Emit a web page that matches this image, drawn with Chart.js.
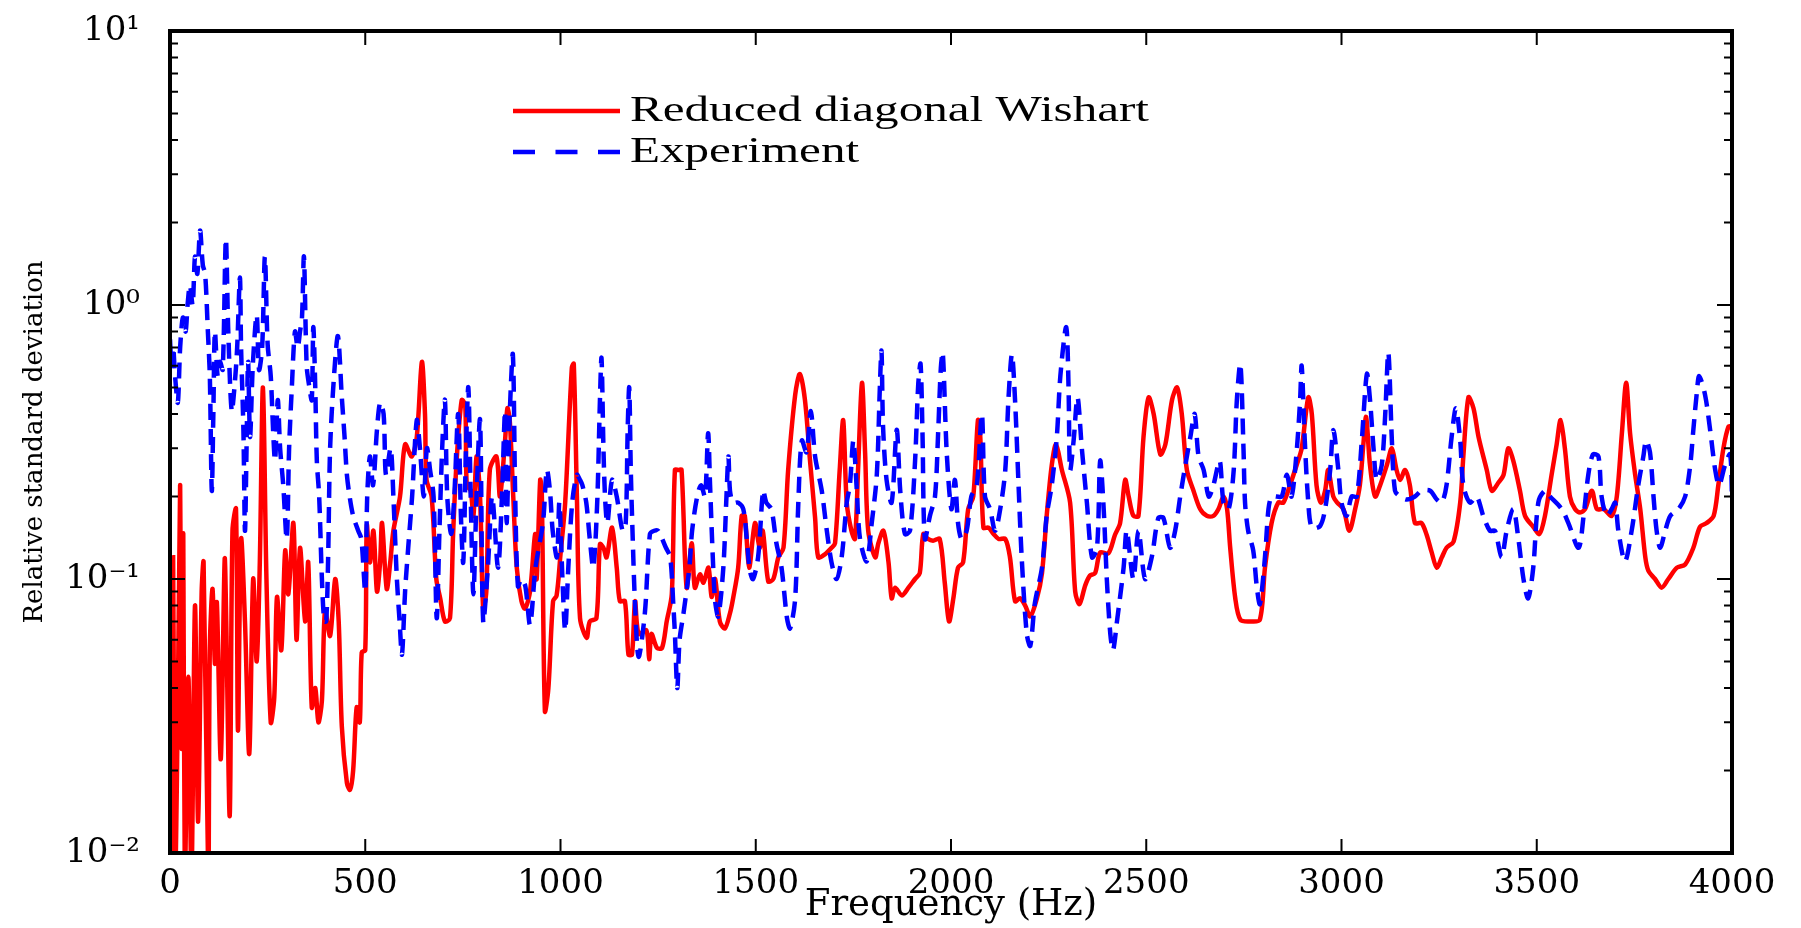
<!DOCTYPE html>
<html lang="en">
<head>
  <meta charset="UTF-8" />
  <title>Relative standard deviation</title>
  <script src="https://cdn.jsdelivr.net/npm/chart.js"></script>
  <style>
    * { margin: 0; padding: 0; box-sizing: border-box; }
    body { background: #ffffff; width: 1801px; height: 928px; overflow: hidden; }
    #wrap { position: relative; width: 1801px; height: 928px; }
    canvas { display: block; }
  </style>
</head>
<body>
  <div id="wrap"><canvas id="rsdChart" width="1801" height="928"></canvas></div>

  <script>
    // values (frequency in Hz, relative std. deviation)
    const wishartFreq = [0, 3, 8, 13, 20, 26, 30, 34, 38, 47, 55, 64, 72, 81, 86, 98, 102, 109, 115, 120,
      130, 140, 144, 153, 160, 169, 174, 182, 192, 203, 213, 222, 230, 238, 247, 258, 267, 274, 285, 295,
      303, 316, 324, 333, 346, 354, 363, 372, 380, 389, 397, 410, 423, 432, 440, 453, 461, 469, 478, 486,
      491, 500, 504, 512, 521, 530, 538, 543, 555, 564, 572, 589, 602, 619, 632, 645, 653, 657, 670, 682,
      692, 704, 717, 725, 734, 747, 756, 760, 770, 777, 785, 794, 802, 810, 819, 836, 845, 858, 864, 870,
      879, 888, 900, 909, 922, 935, 939, 948, 952, 960, 969, 981, 990, 1000, 1012, 1029, 1034, 1042, 1050, 1067,
      1075, 1092, 1101, 1110, 1118, 1132, 1144, 1152, 1165, 1174, 1183, 1191, 1200, 1220, 1227, 1233, 1247, 1260, 1272, 1285,
      1293, 1302, 1310, 1323, 1336, 1344, 1357, 1366, 1379, 1387, 1396, 1408, 1421, 1434, 1442, 1455, 1464, 1472, 1483, 1498,
      1510, 1518, 1532, 1545, 1558, 1571, 1583, 1601, 1613, 1626, 1639, 1652, 1660, 1677, 1694, 1703, 1715, 1724, 1733, 1745,
      1754, 1762, 1772, 1780, 1788, 1806, 1814, 1827, 1840, 1848, 1857, 1874, 1891, 1908, 1920, 1929, 1941, 1954, 1971, 1984,
      1995, 2006, 2018, 2031, 2044, 2057, 2069, 2075, 2083, 2096, 2109, 2122, 2139, 2151, 2164, 2177, 2190, 2203, 2220, 2233,
      2245, 2258, 2269, 2284, 2305, 2318, 2329, 2344, 2356, 2369, 2382, 2403, 2420, 2433, 2446, 2455, 2467, 2480, 2493, 2506,
      2519, 2536, 2549, 2566, 2579, 2591, 2604, 2621, 2638, 2655, 2672, 2685, 2698, 2707, 2715, 2728, 2741, 2766, 2791, 2804,
      2821, 2838, 2851, 2868, 2885, 2898, 2915, 2924, 2936, 2947, 2958, 2966, 2979, 2989, 3005, 3020, 3035, 3047, 3056, 3063,
      3073, 3086, 3099, 3116, 3129, 3141, 3150, 3163, 3175, 3188, 3205, 3218, 3231, 3244, 3257, 3269, 3287, 3304, 3312, 3325,
      3338, 3351, 3372, 3385, 3402, 3415, 3427, 3440, 3457, 3470, 3491, 3507, 3521, 3538, 3551, 3561, 3572, 3585, 3598, 3611,
      3624, 3641, 3654, 3671, 3692, 3705, 3718, 3729, 3739, 3752, 3765, 3778, 3786, 3803, 3820, 3837, 3859, 3880, 3901, 3918,
      3935, 3953, 3965, 3978, 3991, 4000];
    const wishartRsd = [0.049, 0.008, 0.12, 0.008, 0.034, 0.22, 0.024, 0.146, 0.008, 0.044, 0.008, 0.08, 0.013, 0.089, 0.115, 0.008, 0.056, 0.092, 0.049, 0.082,
      0.022, 0.118, 0.07, 0.0137, 0.15, 0.18, 0.028, 0.14, 0.07, 0.023, 0.1, 0.05, 0.115, 0.5, 0.1, 0.03, 0.037, 0.086, 0.055, 0.127,
      0.088, 0.16, 0.06, 0.13, 0.07, 0.115, 0.034, 0.04, 0.03, 0.036, 0.077, 0.062, 0.1, 0.07, 0.029, 0.018, 0.017, 0.02, 0.034, 0.03,
      0.054, 0.055, 0.157, 0.115, 0.15, 0.09, 0.115, 0.16, 0.092, 0.115, 0.15, 0.2, 0.31, 0.28, 0.33, 0.62, 0.4, 0.23, 0.2, 0.1,
      0.085, 0.07, 0.072, 0.146, 0.27, 0.45, 0.43, 0.22, 0.21, 0.17, 0.28, 0.2, 0.078, 0.09, 0.25, 0.28, 0.2, 0.32, 0.42, 0.38,
      0.2, 0.11, 0.083, 0.078, 0.09, 0.146, 0.1, 0.23, 0.21, 0.033, 0.04, 0.083, 0.087, 0.123, 0.19, 0.59, 0.61, 0.2, 0.072, 0.061,
      0.07, 0.072, 0.134, 0.13, 0.12, 0.154, 0.11, 0.083, 0.083, 0.053, 0.053, 0.083, 0.063, 0.065, 0.051, 0.063, 0.056, 0.056, 0.07, 0.088,
      0.25, 0.25, 0.25, 0.093, 0.135, 0.093, 0.104, 0.097, 0.11, 0.086, 0.1, 0.07, 0.066, 0.075, 0.085, 0.11, 0.17, 0.17, 0.11, 0.16,
      0.13, 0.15, 0.098, 0.1, 0.12, 0.13, 0.25, 0.47, 0.56, 0.45, 0.27, 0.167, 0.12, 0.123, 0.13, 0.135, 0.25, 0.38, 0.19, 0.15,
      0.14, 0.25, 0.52, 0.29, 0.15, 0.12, 0.135, 0.15, 0.115, 0.085, 0.093, 0.087, 0.093, 0.1, 0.105, 0.146, 0.14, 0.138, 0.14, 0.097,
      0.07, 0.085, 0.11, 0.115, 0.18, 0.2, 0.38, 0.33, 0.154, 0.154, 0.146, 0.14, 0.14, 0.12, 0.083, 0.085, 0.08, 0.073, 0.085, 0.105,
      0.17, 0.26, 0.31, 0.25, 0.19, 0.09, 0.081, 0.095, 0.103, 0.105, 0.125, 0.124, 0.145, 0.16, 0.23, 0.2, 0.17, 0.17, 0.33, 0.46,
      0.4, 0.285, 0.31, 0.45, 0.5, 0.4, 0.25, 0.21, 0.18, 0.17, 0.17, 0.18, 0.2, 0.18, 0.13, 0.085, 0.071, 0.07, 0.071, 0.11,
      0.16, 0.19, 0.19, 0.22, 0.26, 0.3, 0.46, 0.4, 0.22, 0.19, 0.21, 0.25, 0.2, 0.19, 0.18, 0.15, 0.18, 0.22, 0.31, 0.39,
      0.26, 0.2, 0.22, 0.26, 0.3, 0.25, 0.23, 0.25, 0.22, 0.16, 0.16, 0.145, 0.125, 0.11, 0.12, 0.13, 0.137, 0.19, 0.28, 0.46,
      0.42, 0.33, 0.25, 0.21, 0.225, 0.24, 0.3, 0.27, 0.21, 0.17, 0.155, 0.146, 0.17, 0.24, 0.31, 0.38, 0.3, 0.2, 0.18, 0.175,
      0.18, 0.21, 0.18, 0.18, 0.17, 0.2, 0.34, 0.52, 0.34, 0.24, 0.18, 0.12, 0.107, 0.1, 0.093, 0.1, 0.11, 0.113, 0.13, 0.155,
      0.16, 0.17, 0.22, 0.3, 0.36, 0.36];

    const experimentFreq = [0, 4, 8, 13, 20, 26, 33, 40, 45, 51, 58, 64, 70, 77, 84, 90, 97, 102, 107, 111,
      115, 122, 128, 135, 143, 149, 158, 166, 172, 179, 182, 188, 192, 196, 200, 205, 212, 222, 228, 236,
      243, 250, 258, 264, 269, 276, 282, 290, 299, 305, 312, 320, 327, 333, 338, 343, 350, 357, 363, 367,
      372, 376, 382, 389, 395, 400, 405, 410, 420, 430, 440, 447, 453, 460, 469, 482, 490, 500, 505, 512,
      520, 530, 538, 547, 553, 565, 572, 581, 588, 594, 602, 610, 620, 632, 640, 650, 658, 666, 675, 683,
      690, 697, 704, 710, 720, 728, 738, 745, 751, 758, 764, 770, 777, 785, 794, 802, 814, 825, 840, 850,
      858, 862, 870, 878, 884, 891, 900, 910, 922, 936, 955, 965, 973, 980, 991, 997, 1005, 1012, 1020, 1030,
      1042, 1050, 1056, 1066, 1075, 1084, 1094, 1101, 1105, 1110, 1114, 1120, 1132, 1144, 1159, 1167, 1172, 1176, 1180, 1185,
      1191, 1200, 1216, 1229, 1240, 1250, 1270, 1281, 1289, 1293, 1299, 1305, 1315, 1330, 1337, 1350, 1360, 1370, 1378, 1383,
      1390, 1396, 1404, 1417, 1425, 1430, 1434, 1442, 1455, 1468, 1477, 1485, 1493, 1506, 1519, 1527, 1540, 1553, 1566, 1580,
      1588, 1601, 1609, 1618, 1630, 1641, 1652, 1669, 1682, 1694, 1707, 1720, 1733, 1741, 1750, 1758, 1767, 1784, 1797, 1810,
      1818, 1822, 1826, 1835, 1848, 1861, 1870, 1882, 1895, 1908, 1916, 1922, 1927, 1933, 1946, 1959, 1967, 1974, 1979, 1989,
      2001, 2010, 2018, 2027, 2040, 2052, 2066, 2079, 2087, 2100, 2113, 2126, 2139, 2147, 2156, 2164, 2173, 2181, 2194, 2203,
      2215, 2233, 2245, 2258, 2271, 2280, 2295, 2301, 2305, 2314, 2324, 2335, 2348, 2361, 2374, 2382, 2391, 2399, 2408, 2415,
      2425, 2442, 2450, 2467, 2480, 2497, 2514, 2531, 2544, 2561, 2574, 2587, 2602, 2613, 2624, 2634, 2647, 2660, 2672, 2688,
      2698, 2711, 2724, 2732, 2741, 2749, 2753, 2761, 2774, 2783, 2791, 2804, 2813, 2821, 2834, 2847, 2860, 2872, 2885, 2894,
      2898, 2906, 2915, 2924, 2945, 2958, 2971, 2979, 2992, 3000, 3013, 3026, 3039, 3052, 3065, 3073, 3082, 3090, 3103, 3112,
      3120, 3129, 3137, 3150, 3167, 3188, 3205, 3227, 3244, 3257, 3269, 3282, 3293, 3304, 3312, 3329, 3346, 3363, 3380, 3393,
      3410, 3423, 3440, 3453, 3466, 3478, 3491, 3504, 3521, 3534, 3564, 3581, 3607, 3620, 3632, 3644, 3658, 3666, 3679, 3692,
      3701, 3709, 3726, 3743, 3760, 3773, 3780, 3790, 3799, 3807, 3816, 3829, 3842, 3863, 3880, 3893, 3901, 3910, 3916, 3931,
      3944, 3957, 3967, 3982, 3995, 4000];
    const experimentRsd = [0.75, 0.6, 0.7, 0.55, 0.44, 0.7, 0.9, 0.8, 1.0, 1.18, 1.0, 1.5, 1.3, 1.87, 1.4, 1.3, 0.8, 0.55, 0.21, 0.4,
      0.8, 0.55, 0.62, 0.58, 1.74, 0.82, 0.41, 0.52, 0.7, 1.26, 0.7, 0.35, 0.15, 0.3, 0.62, 0.33, 0.6, 0.92, 0.58, 0.7,
      1.5, 0.72, 0.55, 0.35, 0.27, 0.45, 0.3, 0.22, 0.14, 0.3, 0.5, 0.8, 0.7, 0.8, 0.9, 1.5, 0.6, 0.5, 0.45, 0.83,
      0.5, 0.27, 0.2, 0.1, 0.07, 0.07, 0.12, 0.3, 0.55, 0.77, 0.46, 0.33, 0.24, 0.2, 0.17, 0.15, 0.14, 0.09, 0.2, 0.28,
      0.22, 0.35, 0.44, 0.4, 0.24, 0.3, 0.2, 0.1, 0.07, 0.053, 0.09, 0.13, 0.2, 0.38, 0.3, 0.2, 0.3, 0.25, 0.2, 0.072,
      0.15, 0.3, 0.45, 0.2, 0.146, 0.2, 0.4, 0.17, 0.115, 0.3, 0.5, 0.2, 0.088, 0.2, 0.38, 0.07, 0.11, 0.2, 0.11, 0.2,
      0.41, 0.16, 0.4, 0.66, 0.2, 0.094, 0.1, 0.094, 0.068, 0.11, 0.16, 0.25, 0.21, 0.15, 0.12, 0.19, 0.1, 0.065, 0.11, 0.19,
      0.24, 0.23, 0.22, 0.19, 0.14, 0.11, 0.19, 0.45, 0.64, 0.3, 0.2, 0.16, 0.23, 0.2, 0.15, 0.16, 0.35, 0.5, 0.25, 0.14,
      0.08, 0.052, 0.075, 0.146, 0.15, 0.15, 0.13, 0.12, 0.08, 0.063, 0.04, 0.06, 0.075, 0.11, 0.15, 0.2, 0.22, 0.2, 0.34, 0.22,
      0.12, 0.083, 0.073, 0.11, 0.2, 0.28, 0.21, 0.19, 0.19, 0.18, 0.14, 0.107, 0.1, 0.12, 0.21, 0.19, 0.18, 0.135, 0.11, 0.072,
      0.066, 0.085, 0.19, 0.32, 0.29, 0.41, 0.28, 0.21, 0.15, 0.115, 0.1, 0.12, 0.19, 0.22, 0.32, 0.22, 0.14, 0.116, 0.16, 0.24,
      0.51, 0.68, 0.36, 0.23, 0.19, 0.35, 0.21, 0.146, 0.15, 0.27, 0.51, 0.61, 0.34, 0.14, 0.17, 0.2, 0.34, 0.59, 0.67, 0.29,
      0.18, 0.23, 0.16, 0.14, 0.15, 0.2, 0.22, 0.4, 0.2, 0.18, 0.15, 0.18, 0.25, 0.45, 0.66, 0.45, 0.22, 0.12, 0.063, 0.057,
      0.082, 0.11, 0.17, 0.22, 0.33, 0.55, 0.83, 0.5, 0.25, 0.32, 0.46, 0.3, 0.19, 0.12, 0.13, 0.27, 0.18, 0.1, 0.063, 0.055,
      0.07, 0.11, 0.15, 0.1, 0.15, 0.1, 0.12, 0.167, 0.167, 0.13, 0.15, 0.2, 0.27, 0.33, 0.4, 0.28, 0.25, 0.2, 0.22, 0.27,
      0.19, 0.18, 0.25, 0.45, 0.61, 0.3, 0.19, 0.15, 0.127, 0.094, 0.081, 0.12, 0.18, 0.2, 0.2, 0.2, 0.24, 0.2, 0.29, 0.45,
      0.6, 0.32, 0.19, 0.154, 0.156, 0.18, 0.25, 0.35, 0.25, 0.19, 0.17, 0.2, 0.2, 0.32, 0.56, 0.45, 0.3, 0.23, 0.26, 0.4,
      0.67, 0.32, 0.21, 0.2, 0.195, 0.2, 0.21, 0.21, 0.195, 0.19, 0.22, 0.33, 0.42, 0.32, 0.22, 0.19, 0.2, 0.17, 0.15, 0.15,
      0.12, 0.15, 0.18, 0.14, 0.1, 0.085, 0.11, 0.19, 0.21, 0.2, 0.18, 0.16, 0.13, 0.17, 0.24, 0.285, 0.28, 0.2, 0.17, 0.18,
      0.19, 0.15, 0.116, 0.15, 0.22, 0.28, 0.32, 0.29, 0.2, 0.15, 0.13, 0.15, 0.17, 0.18, 0.2, 0.26, 0.35, 0.48, 0.55, 0.47,
      0.35, 0.25, 0.22, 0.26, 0.285, 0.2];

    const seriesNames = ['Reduced diagonal Wishart', 'Experiment'];
    const xTickValues = [0, 500, 1000, 1500, 2000, 2500, 3000, 3500, 4000];
    const yTickValues = [0.01, 0.1, 1, 10];
    const yTickLabels = ['10⁻²', '10⁻¹', '10⁰', '10¹'];

    const toPoints = (xs, ys) => xs.map((f, i) => ({ x: f, y: ys[i] }));

    // where the plot box and the x title sit in the original figure
    const box = { left: 170, top: 31, right: 1732, bottom: 853 };
    const xTitleY = 911;
    const pad = { left: 0, top: 31, right: 69, bottom: 0 };

    // box, inward ticks and the legend, like the original MATLAB figure
    const framePlugin = {
      id: 'frame',
      afterDatasetsDraw(chart) {
        const { ctx, chartArea: a, scales: { x, y } } = chart;
        ctx.save();
        ctx.strokeStyle = '#000';
        ctx.lineWidth = 2;
        ctx.beginPath();
        xTickValues.forEach(v => {
          const px = x.getPixelForValue(v);
          ctx.moveTo(px, a.bottom); ctx.lineTo(px, a.bottom - 14);
          ctx.moveTo(px, a.top); ctx.lineTo(px, a.top + 14);
        });
        for (let e = -2; e < 1; e++) {
          for (let m = 1; m <= 9; m++) {
            const v = m * Math.pow(10, e);
            const py = y.getPixelForValue(v);
            const len = m === 1 ? 15 : 8;
            ctx.moveTo(a.left, py); ctx.lineTo(a.left + len, py);
            ctx.moveTo(a.right, py); ctx.lineTo(a.right - len, py);
          }
        }
        ctx.stroke();
        ctx.lineWidth = 4;
        ctx.strokeRect(a.left, a.top, a.right - a.left, a.bottom - a.top);

        // legend
        const lx = a.left + 343, lw = 107;
        const rows = [a.top + 80, a.top + 121];
        const styles = [
          { color: '#ff0000', dash: [] },
          { color: '#0000ff', dash: [22, 20.5] }
        ];
        rows.forEach((ry, i) => {
          ctx.strokeStyle = styles[i].color;
          ctx.lineWidth = 4.5;
          ctx.setLineDash(styles[i].dash);
          ctx.beginPath();
          ctx.moveTo(lx, ry); ctx.lineTo(lx + lw, ry);
          ctx.stroke();
        });
        ctx.setLineDash([]);
        ctx.fillStyle = '#000';
        ctx.font = '36px "Liberation Serif"';
        ctx.textBaseline = 'middle';
        const sx = 519 / ctx.measureText(seriesNames[0]).width;
        rows.forEach((ry, i) => {
          ctx.save();
          ctx.translate(lx + lw + 10, ry + 1);
          ctx.scale(sx, 1);
          ctx.fillText(seriesNames[i], 0, 0);
          ctx.restore();
        });
        ctx.restore();
      }
    };

    const ctx = document.getElementById('rsdChart').getContext('2d');
    const chart = new Chart(ctx, {
      type: 'line',
      data: {
        datasets: [{
          label: seriesNames[0],
          data: toPoints(wishartFreq, wishartRsd),
          borderColor: '#ff0000',
          borderWidth: 4.5,
          pointRadius: 0,
          tension: 0.3,
          fill: false,
          order: 2
        }, {
          label: seriesNames[1],
          data: toPoints(experimentFreq, experimentRsd),
          borderColor: '#0000ff',
          borderWidth: 4.5,
          borderDash: [16, 9],
          pointRadius: 0,
          tension: 0.3,
          fill: false,
          order: 1
        }]
      },
      options: {
        responsive: false,
        maintainAspectRatio: false,
        animation: false,
        devicePixelRatio: 1,
        layout: { padding: pad },
        plugins: {
          legend: { display: false },
          tooltip: { enabled: false }
        },
        scales: {
          x: {
            type: 'linear',
            min: 0,
            max: 4000,
            afterBuildTicks: s => { s.ticks = xTickValues.map(v => ({ value: v })); },
            afterFit: s => { s.height = 75; },
            // tick marks are drawn by the frame plugin; tickLength only spaces the labels
            grid: { display: false, drawTicks: true, tickLength: 4 },
            border: { display: false },
            ticks: {
              padding: 7,
              color: '#000',
              font: { family: 'DejaVu Serif', size: 34 },
              maxRotation: 0,
              autoSkip: false,
              callback: v => String(v)
            },
            title: {
              display: true,
              text: 'Frequency (Hz)',
              color: '#000',
              font: { family: 'DejaVu Serif', size: 37 },
              padding: { top: 0, bottom: 0 }
            }
          },
          y: {
            type: 'logarithmic',
            min: 0.01,
            max: 10,
            afterBuildTicks: s => { s.ticks = yTickValues.map(v => ({ value: v })); },
            afterFit: s => { s.width = 170; },
            grid: { display: false, drawTicks: true, tickLength: 27 },
            border: { display: false },
            ticks: {
              padding: 3,
              color: '#000',
              font: { family: 'DejaVu Serif', size: 34 },
              autoSkip: false,
              callback: v => {
                const i = yTickValues.findIndex(t => Math.abs(t - v) / t < 1e-6);
                return i >= 0 ? yTickLabels[i] : '';
              }
            },
            title: {
              display: true,
              text: 'Relative standard deviation',
              color: '#000',
              font: { family: 'DejaVu Serif', size: 26 },
              padding: { top: 20, bottom: 0 }
            }
          }
        }
      },
      plugins: [framePlugin]
    });

    // nudge the layout padding until the plot box lands where it is in the figure
    for (let k = 0; k < 3; k++) {
      const a = chart.chartArea;
      pad.top += box.top - a.top;
      pad.bottom += a.bottom - box.bottom;
      pad.left += box.left - a.left;
      pad.right += a.right - box.right;
      chart.options.layout.padding = { ...pad };
      chart.update();
    }

    // then set the x title to its place (the axis box height is fixed above)
    const titleHalf = 37 * 1.2 / 2;
    const lift = Math.max(0, chart.scales.x.bottom - titleHalf - xTitleY);
    chart.options.scales.x.title.padding = { top: 0, bottom: lift };
    chart.update();
  </script>
</body>
</html>
